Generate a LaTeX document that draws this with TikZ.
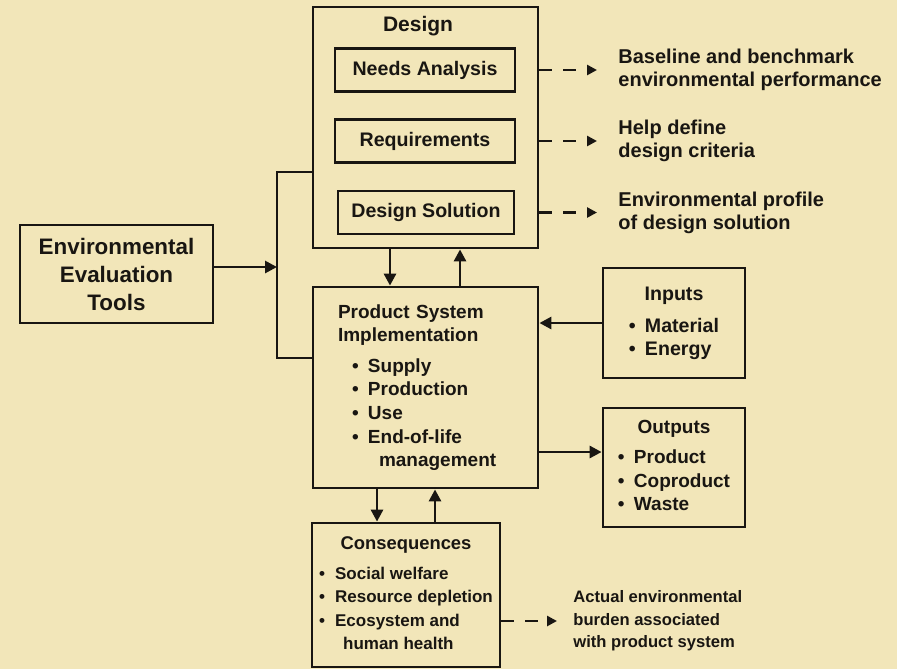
\documentclass[tikz,border=0pt]{standalone}
\usepackage{fontspec}
\setmainfont{Liberation Sans}
\usepackage{xcolor}
\usepackage{tikz}
\usetikzlibrary{arrows.meta, positioning}
\definecolor{paper}{RGB}{242,230,185}
\definecolor{ink}{RGB}{25,22,18}
\newcommand{\bul}{\makebox[8pt][l]{\textbullet}}

\begin{document}
\begin{tikzpicture}[x=0.5pt, y=-0.5pt, line width=1.4pt, ink,
    box/.style={draw, fill=paper, inner sep=0pt, text=ink},
    stage/.style={box, minimum width=90pt, minimum height=21.5pt,
      font=\bfseries\fontsize{9.8}{11}\selectfont},
    arr/.style={-{Triangle[length=6pt, width=6pt]}},
    dasharr/.style={-{Triangle[length=5pt, width=5pt]}, dash pattern=on 6.5pt off 5.5pt},
    note/.style={anchor=west, inner sep=0pt, align=left, text=ink,
      font=\bfseries\fontsize{10}{11.5}\selectfont}]

      % paper
      \fill[paper] (0,0) rectangle (897,669);
      \useasboundingbox (0,0) rectangle (897,669);

      % Design
      \node[box, minimum width=112.5pt, minimum height=120.5pt] (design) at (425.5,127.5) {};
      \node[text=ink, font=\bfseries\fontsize{10.5}{12}\selectfont] (designtitle) at (418,26) {Design};
      \node[stage] (needs) at (425,70) {Needs Analysis};
      \node[stage] (req) at (425,141) {Requirements};
      \node[stage, minimum width=88pt] (sol) at (426,212.5) {Design Solution};

      % what each design step gives
      \node[note] (baseline) at (617,70) {Baseline and benchmark\\environmental performance};
      \node[note] (criteria) at (617,141) {Help define\\design criteria};
      \node[note] (profile) at (617,212.5) {Environmental profile\\of design solution};
      \draw[dasharr, shorten >=10pt] (needs -| design.east) -- (baseline.west);
      \draw[dasharr, shorten >=10pt] (req -| design.east) -- (criteria.west);
      \draw[dasharr, shorten >=10pt] (sol -| design.east) -- (profile.west);

      % Tools
      \node[box, minimum width=96.5pt, minimum height=49pt, align=center,
        font=\bfseries\fontsize{11.2}{14}\selectfont] (tools) at (116.5,274)
        {Environmental\\Evaluation\\Tools};

      % Product system
      \node[box, text width=87.5pt, inner xsep=12.5pt, minimum height=100.5pt, align=left,
        font=\bfseries\fontsize{9.5}{11.8}\selectfont] (prod) at (425.5,387.5)
        {Product System\\Implementation\\[3.5pt]
         \hspace*{7pt}\bul Supply\\
         \hspace*{7pt}\bul Production\\
         \hspace*{7pt}\bul Use\\
         \hspace*{7pt}\bul End-of-life\\
         \hspace*{20.5pt}management};

      % Inputs / Outputs
      \node[box, minimum width=71pt, minimum height=55pt,
        font=\bfseries\fontsize{9.8}{11.5}\selectfont] (inputs) at (674,323)
        {\begin{tabular}{@{}l@{}}\multicolumn{1}{@{}c@{}}{Inputs}\\[4.5pt]
         \bul Material\\ \bul Energy\end{tabular}};
      \node[box, minimum width=71pt, minimum height=59.5pt,
        font=\bfseries\fontsize{9.5}{11.8}\selectfont] (outputs) at (674,467.5)
        {\begin{tabular}{@{}l@{}}\multicolumn{1}{@{}c@{}}{Outputs}\\[3pt]
         \bul Product\\ \bul Coproduct\\ \bul Waste\end{tabular}};

      % Consequences
      \node[box, minimum width=94pt, minimum height=72pt,
        font=\bfseries\fontsize{8.5}{11.8}\selectfont] (cons) at (406,595)
        {\begin{tabular}{@{}l@{}}\multicolumn{1}{@{}c@{}}{\fontsize{9.2}{11.8}\selectfont Consequences}\\[3pt]
         \bul Social welfare\\ \bul Resource depletion\\ \bul Ecosystem and\\
         \hspace*{12pt}human health\end{tabular}};
      \node[note, font=\bfseries\fontsize{8.3}{11.2}\selectfont] (burden) at (572,621)
        {Actual environmental\\burden associated\\with product system};
      \draw[dasharr, shorten >=7.5pt] (burden.west -| cons.east) -- (burden.west);

      % tools feed design and product system
      \coordinate (busT) at (277,172);
      \coordinate (busB) at (277,358);
      \draw (busT -| design.west) -- (busT) -- (busB) -- (busB -| prod.west);
      \coordinate (toolsout) at ([yshift=3.5pt]tools.east);
      \draw[arr] (toolsout) -- (toolsout -| busT);

      % feedback arrows
      \coordinate (dnA) at (390,0);
      \coordinate (upA) at (460,0);
      \coordinate (dnB) at (377,0);
      \coordinate (upB) at (435,0);
      \draw[arr] (dnA |- design.south) -- (dnA |- prod.north);
      \draw[arr] (upA |- prod.north) -- (upA |- design.south);
      \draw[arr] (dnB |- prod.south) -- (dnB |- cons.north);
      \draw[arr] (upB |- cons.north) -- (upB |- prod.south);

      % flows in and out
      \coordinate (outy) at (0,452);
      \draw[arr] (inputs.west) -- (inputs.west -| prod.east);
      \draw[arr] (outy -| prod.east) -- (outy -| outputs.west);
\end{tikzpicture}
\end{document}
